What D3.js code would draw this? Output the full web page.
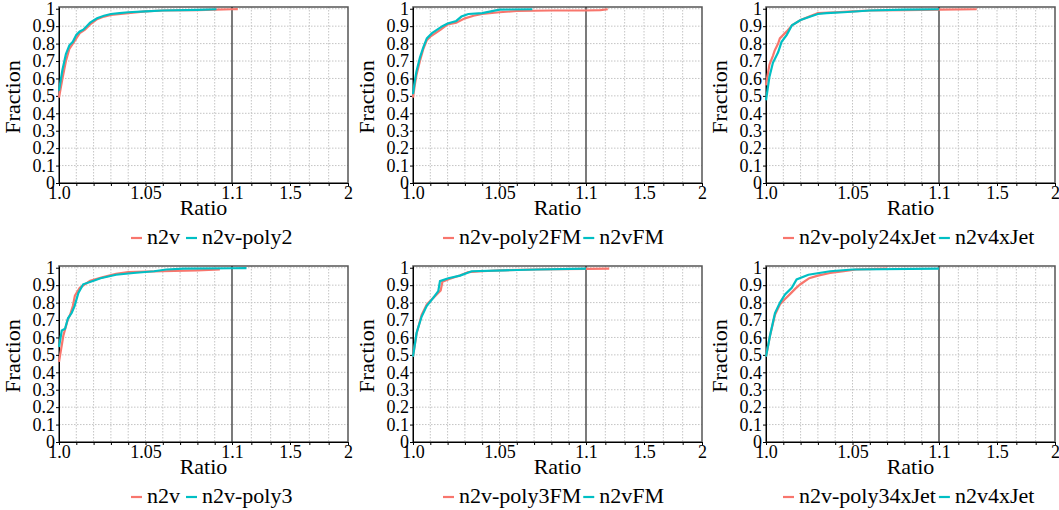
<!DOCTYPE html>
<html>
<head>
<meta charset="utf-8">
<script src="https://cdn.jsdelivr.net/npm/d3@7"></script>
<style>
  body { margin: 0; background: #fff; }
  svg, svg text { font-family: "Times New Roman", "Liberation Serif", Times, "DejaVu Serif", serif; }
</style>
</head>
<body>
<div id="chart"></div>
<script>
// tick values and labels
var xTicks = [1.0, 1.05, 1.1, 1.5, 2];
var xTickLabels = ["1.0", "1.05", "1.1", "1.5", "2"];
var yTicks = [0, 0.1, 0.2, 0.3, 0.4, 0.5, 0.6, 0.7, 0.8, 0.9, 1];
var yTickLabels = ["0", "0.1", "0.2", "0.3", "0.4", "0.5", "0.6", "0.7", "0.8", "0.9", "1"];

// series names per panel
var legendNames = [
  ["n2v", "n2v-poly2"],
  ["n2v-poly2FM", "n2vFM"],
  ["n2v-poly24xJet", "n2v4xJet"],
  ["n2v", "n2v-poly3"],
  ["n2v-poly3FM", "n2vFM"],
  ["n2v-poly34xJet", "n2v4xJet"]
];

// [ratio, fraction]
var n2v_a = [[1.0,0.49],[1.002,0.60],[1.004,0.70],[1.006,0.77],[1.008,0.80],[1.010,0.83],[1.012,0.86],[1.015,0.88],[1.018,0.91],[1.022,0.94],[1.026,0.955],[1.03,0.965],[1.04,0.975],[1.05,0.985],[1.06,0.99],[1.08,0.992],[1.09,0.995],[1.1,0.997],[1.14,0.998]];
var n2vPoly2 = [[1.0,0.53],[1.002,0.65],[1.004,0.74],[1.006,0.79],[1.008,0.81],[1.010,0.85],[1.012,0.87],[1.014,0.88],[1.016,0.90],[1.018,0.92],[1.022,0.945],[1.026,0.96],[1.03,0.97],[1.035,0.975],[1.04,0.98],[1.05,0.985],[1.06,0.99],[1.08,0.993],[1.091,0.997]];

var n2vPoly2FM = [[1.0,0.49],[1.001,0.56],[1.002,0.62],[1.004,0.70],[1.006,0.77],[1.008,0.82],[1.010,0.84],[1.013,0.86],[1.016,0.88],[1.02,0.91],[1.025,0.92],[1.03,0.945],[1.035,0.96],[1.04,0.97],[1.05,0.98],[1.06,0.987],[1.08,0.99],[1.1,0.99],[1.2,0.992],[1.25,0.997]];
var n2vFM_a = [[1.0,0.51],[1.001,0.58],[1.002,0.64],[1.004,0.72],[1.006,0.78],[1.008,0.83],[1.011,0.86],[1.014,0.88],[1.017,0.90],[1.02,0.915],[1.025,0.93],[1.028,0.955],[1.032,0.97],[1.04,0.975],[1.045,0.985],[1.05,0.995],[1.069,0.997]];

var n2vPoly24xJet = [[1.0,0.56],[1.0006,0.60],[1.002,0.68],[1.004,0.73],[1.005,0.76],[1.007,0.80],[1.008,0.83],[1.01,0.85],[1.012,0.87],[1.015,0.905],[1.02,0.935],[1.025,0.955],[1.03,0.975],[1.04,0.98],[1.05,0.985],[1.06,0.99],[1.08,0.992],[1.1,0.995],[1.36,0.997]];
var n2v4xJet_a = [[1.0,0.475],[1.002,0.61],[1.004,0.69],[1.007,0.75],[1.009,0.81],[1.012,0.85],[1.015,0.905],[1.02,0.935],[1.027,0.96],[1.03,0.97],[1.035,0.975],[1.045,0.98],[1.06,0.99],[1.08,0.995],[1.1,0.997]];

var n2v_b = [[1.0,0.46],[1.0025,0.61],[1.005,0.70],[1.0064,0.73],[1.008,0.78],[1.0092,0.84],[1.012,0.885],[1.018,0.925],[1.025,0.945],[1.033,0.965],[1.04,0.975],[1.05,0.978],[1.06,0.98],[1.08,0.985],[1.093,0.99]];
var n2vPoly3 = [[1.0,0.545],[1.0016,0.64],[1.0035,0.65],[1.0052,0.71],[1.0073,0.74],[1.009,0.78],[1.0112,0.856],[1.014,0.905],[1.02,0.925],[1.024,0.94],[1.033,0.96],[1.043,0.97],[1.055,0.98],[1.062,0.99],[1.072,0.995],[1.1,0.997],[1.2,0.998]];

var n2vPoly3FM = [[1.0,0.49],[1.002,0.62],[1.005,0.73],[1.008,0.79],[1.012,0.83],[1.016,0.87],[1.017,0.92],[1.021,0.935],[1.027,0.955],[1.032,0.975],[1.04,0.98],[1.05,0.985],[1.07,0.99],[1.1,0.993],[1.26,0.995]];
var n2vFM_b = [[1.0,0.49],[1.0021,0.627],[1.005,0.72],[1.0079,0.78],[1.0117,0.827],[1.0146,0.866],[1.0156,0.923],[1.0204,0.94],[1.0272,0.955],[1.0339,0.98],[1.053,0.985],[1.072,0.99],[1.1,0.995]];

var n2vPoly34xJet = [[1.0,0.49],[1.0023,0.61],[1.0052,0.73],[1.0081,0.79],[1.011,0.82],[1.014,0.85],[1.017,0.88],[1.0197,0.904],[1.025,0.94],[1.03,0.955],[1.037,0.97],[1.045,0.98],[1.052,0.99],[1.07,0.995]];
var n2v4xJet_b = [[1.0,0.49],[1.0023,0.61],[1.0052,0.74],[1.0081,0.80],[1.011,0.847],[1.0149,0.885],[1.0177,0.933],[1.0245,0.96],[1.037,0.98],[1.05,0.99],[1.1,0.995]];

var panelSeries = [
  [n2v_a, n2vPoly2],
  [n2vPoly2FM, n2vFM_a],
  [n2vPoly24xJet, n2v4xJet_a],
  [n2v_b, n2vPoly3],
  [n2vPoly3FM, n2vFM_b],
  [n2vPoly34xJet, n2v4xJet_b]
];

var colors = ["#F8766D", "#00BFC4"];
var serif = "'Times New Roman', 'Liberation Serif', Times, 'DejaVu Serif', serif";

// layout
var plotW = 289, plotH = 176;
var lefts = [59, 413, 766], tops = [7, 266];
// legend start and gap after first label, per column
var legendStart = [72, 30, 17], legendGap = [6, 2, 3];

var svg = d3.select("#chart").append("svg")
    .attr("width", 1059)
    .attr("height", 510)
    .attr("font-family", serif);

// grid positions on x: every 0.01 up to 1.1, then thirds of each wide step
var xGrid = d3.range(1, 10).map(function(i) { return 1 + i / 100; })
  .concat([1.1 + 0.4/3, 1.1 + 0.8/3, 1.5, 1.5 + 0.5/3, 1.5 + 1/3]);
var xMinor = d3.range(0, 11).map(function(i) { return 1 + i / 100; })
  .concat([1.1 + 0.4/3, 1.1 + 0.8/3, 1.5, 1.5 + 0.5/3, 1.5 + 1/3, 2]);

function xLabel(d) {
  var i = xTicks.findIndex(function(t) { return Math.abs(t - d) < 1e-9; });
  return i >= 0 ? xTickLabels[i] : "";
}

panelSeries.forEach(function(series, p) {
  var col = p % 3, row = Math.floor(p / 3);
  var g = svg.append("g")
      .attr("transform", "translate(" + lefts[col] + "," + tops[row] + ")");

  var x = d3.scaleLinear().domain([1.0, 1.1, 1.5, 2]).range([0, 173, 231, plotW]);
  var y = d3.scaleLinear().domain([0, 1.01]).range([plotH, 0]);

  // grid
  g.append("g").selectAll("line.v")
    .data(xGrid).enter().append("line")
      .attr("x1", function(d) { return x(d); })
      .attr("x2", function(d) { return x(d); })
      .attr("y1", 0).attr("y2", plotH)
      .attr("stroke", "#c4c4c4")
      .attr("stroke-dasharray", "1.5,1.5");
  g.append("g").selectAll("line.h")
    .data(yTicks.slice(1)).enter().append("line")
      .attr("x1", 0).attr("x2", plotW)
      .attr("y1", function(d) { return y(d); })
      .attr("y2", function(d) { return y(d); })
      .attr("stroke", "#c4c4c4")
      .attr("stroke-dasharray", "1.5,1.5");

  // frame
  g.append("rect")
      .attr("width", plotW).attr("height", plotH)
      .attr("fill", "none")
      .attr("stroke", "#555")
      .attr("stroke-width", 1.5);

  // x axis
  var xAxis = g.append("g")
      .attr("transform", "translate(0," + plotH + ")")
      .call(d3.axisBottom(x)
        .tickValues(xMinor)
        .tickSize(3)
        .tickSizeOuter(0)
        .tickPadding(0)
        .tickFormat(xLabel));
  xAxis.attr("font-family", serif).attr("font-size", 18);
  xAxis.select(".domain").attr("stroke", "#000");
  xAxis.selectAll("text").attr("fill", "#000")
    .filter(function(d) { return xLabel(d) === ""; }).remove();

  // y axis
  var yAxis = g.append("g")
      .call(d3.axisLeft(y)
        .tickValues(yTicks)
        .tickSize(3)
        .tickSizeOuter(0)
        .tickPadding(1)
        .tickFormat(function(d, i) { return yTickLabels[i]; }));
  yAxis.attr("font-family", serif).attr("font-size", 18);
  yAxis.select(".domain").attr("stroke", "#000");
  yAxis.selectAll("text").attr("fill", "#000");

  // reference line at 1.1
  g.append("line")
      .attr("x1", x(1.1)).attr("x2", x(1.1))
      .attr("y1", 0).attr("y2", plotH)
      .attr("stroke", "#222")
      .attr("stroke-width", 1.2);

  // curves
  var line = d3.line()
      .x(function(d) { return x(d[0]); })
      .y(function(d) { return y(d[1]); });
  series.forEach(function(s, i) {
    g.append("path")
        .datum(s)
        .attr("d", line)
        .attr("fill", "none")
        .attr("stroke", colors[i])
        .attr("stroke-width", 2.2);
  });

  // axis titles
  g.append("text")
      .attr("x", plotW / 2)
      .attr("y", plotH + 32)
      .attr("text-anchor", "middle")
      .attr("font-size", 22)
      .text("Ratio");
  g.append("text")
      .attr("transform", "rotate(-90)")
      .attr("x", -plotH / 2 - 2)
      .attr("y", -39)
      .attr("text-anchor", "middle")
      .attr("font-size", 22)
      .text("Fraction");

  // legend
  var lx = legendStart[col], ly = plotH + 55;
  legendNames[p].forEach(function(name, i) {
    g.append("line")
        .attr("x1", lx).attr("x2", lx + 11)
        .attr("y1", ly).attr("y2", ly)
        .attr("stroke", colors[i])
        .attr("stroke-width", 2.2);
    var t = g.append("text")
        .attr("x", lx + 16)
        .attr("y", ly + 6)
        .attr("font-size", 22)
        .text(name);
    lx = lx + 16 + t.node().getComputedTextLength() + legendGap[col];
  });
});
</script>
</body>
</html>
